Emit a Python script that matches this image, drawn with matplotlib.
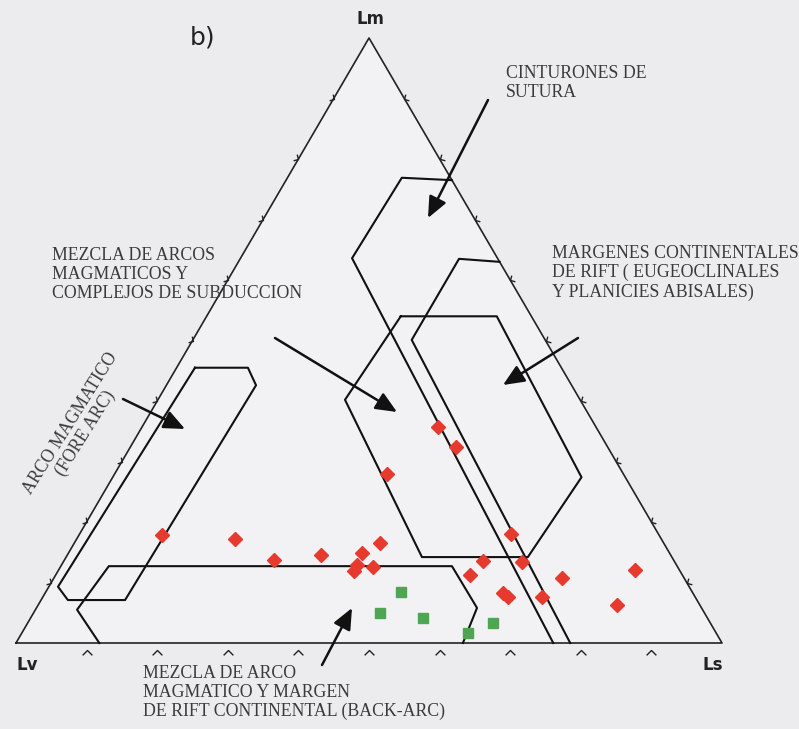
import numpy as np
import matplotlib.pyplot as plt
from matplotlib.path import Path

# sample compositions, percent (Lm, Lv, Ls)
red_lm = [17.9, 17.2, 13.7, 14.5, 14.9, 16.5, 12.9, 11.9, 12.6, 27.9, 35.7,
          32.4, 18.0, 13.6, 13.4, 11.2, 10.7, 12.1, 8.3, 7.6, 7.6, 6.3]
red_ls = [11.8, 22.4, 29.7, 35.9, 41.6, 43.3, 41.9, 41.9, 44.3, 38.6, 41.9,
          46.1, 61.1, 59.4, 65.0, 58.7, 72.0, 81.6, 64.8, 65.9, 70.7, 82.0]
red_lv = [100 - a - b for a, b in zip(red_lm, red_ls)]

green_lm = [8.4, 5.0, 4.1, 3.3, 1.7]
green_ls = [50.3, 49.1, 55.6, 65.9, 63.2]
green_lv = [100 - a - b for a, b in zip(green_lm, green_ls)]

# field boundaries (Lm, Ls) in percent
forearc_lm = [45.5, 45.5, 42.6, 7.1, 7.1, 9.3, 45.5]
forearc_ls = [2.6, 10.1, 12.7, 11.9, 3.8, 1.3, 2.6]
backarc_lm = [0, 5.5, 12.7, 12.7, 5.8, 0]
backarc_ls = [11.8, 5.9, 6.8, 55.4, 62.4, 63.3]
mixed_lm = [54.0, 54.0, 27.4, 14.2, 14.2, 40.2, 54.0]
mixed_ls = [27.5, 41.1, 66.4, 65.4, 50.4, 26.5, 27.5]
suture_lm = [76.5, 76.9, 63.6, 0]
suture_ls = [23.5, 16.2, 15.8, 76.1]
rift_lm = [63.0, 63.5, 50.1, 0]
rift_ls = [37.0, 31.0, 31.0, 78.5]

ticks = np.arange(10, 100, 10)


def tern(lm, ls):
    lm = np.asarray(lm, float) / 100
    ls = np.asarray(ls, float) / 100
    return ls + lm / 2, lm


def chevron(angle):
    # open ">" shape pointing along angle (degrees)
    v = np.array([[-1.0, 1.0], [0.0, 0.0], [-1.0, -1.0]])
    a = np.radians(angle)
    r = np.array([[np.cos(a), -np.sin(a)], [np.sin(a), np.cos(a)]])
    return Path(v @ r.T, [Path.MOVETO, Path.LINETO, Path.LINETO])


W, H = 799, 729
bg = '#ececef'
fig = plt.figure(figsize=(W / 100, H / 100), dpi=100, facecolor=bg)
ax = fig.add_axes([0, 0, 1, 1])
ax.set_facecolor(bg)
ax.set_xlim(-16 / 706, (W - 16) / 706)
ax.set_ylim((643 - H) / 605, 643 / 605)
ax.axis('off')

serif = 'Liberation Serif'
tc = '#3a3a3a'
fs = 12.8

# frame
cx, cy = tern([0, 0, 100, 0], [0, 100, 0, 0])
ax.fill(cx, cy, color='#f2f2f5', zorder=0)
ax.plot(cx, cy, color='#222222', lw=1.2, zorder=2)

# edge ticks
bx, by = tern(np.zeros(9), ticks)
ax.plot(bx, by - 0.012, ls='none', marker=chevron(90), ms=7, mfc='none',
        mec='#222222', mew=1.0)
lx, ly = tern(ticks, np.zeros(9))
ax.plot(lx, ly, ls='none', marker=chevron(-30), ms=7, mfc='none',
        mec='#222222', mew=1.0)
rx, ry = tern(ticks, 100 - ticks)
ax.plot(rx, ry, ls='none', marker=chevron(210), ms=7, mfc='none',
        mec='#222222', mew=1.0)

# fields
for flm, fls in [(forearc_lm, forearc_ls), (backarc_lm, backarc_ls),
                 (mixed_lm, mixed_ls), (suture_lm, suture_ls),
                 (rift_lm, rift_ls)]:
    x, y = tern(flm, fls)
    ax.plot(x, y, color='#111111', lw=1.5, zorder=3)

# samples
x, y = tern(red_lm, red_ls)
ax.plot(x, y, ls='none', marker='D', ms=7.5, color='#e63a2e', zorder=5)
x, y = tern(green_lm, green_ls)
ax.plot(x, y, ls='none', marker='s', ms=7.5, color='#4fa552', zorder=5)


def fx(px):
    return px / W


def fy(py):
    return 1 - py / H


# apex labels
fig.text(fx(370), fy(19), 'Lm', ha='center', va='center', fontsize=12,
         fontweight='bold', color='#222222')
fig.text(fx(27), fy(665), 'Lv', ha='center', va='center', fontsize=12,
         fontweight='bold', color='#222222')
fig.text(fx(713), fy(665), 'Ls', ha='center', va='center', fontsize=12,
         fontweight='bold', color='#222222')
fig.text(fx(190), fy(37), 'b)', ha='left', va='center', fontsize=18,
         color='#222222')

# field names
fig.text(fx(506), fy(65), 'CINTURONES DE\nSUTURA', ha='left', va='top',
         fontsize=fs, family=serif, color=tc, linespacing=1.15)
fig.text(fx(52), fy(247), 'MEZCLA DE ARCOS\nMAGMATICOS Y\nCOMPLEJOS DE SUBDUCCION',
         ha='left', va='top', fontsize=fs, family=serif, color=tc,
         linespacing=1.15)
fig.text(fx(552), fy(245),
         'MARGENES CONTINENTALES\nDE RIFT ( EUGEOCLINALES\nY PLANICIES ABISALES)',
         ha='left', va='top', fontsize=fs, family=serif, color=tc,
         linespacing=1.15)
fig.text(fx(143), fy(665),
         'MEZCLA DE ARCO\nMAGMATICO Y MARGEN\nDE RIFT CONTINENTAL (BACK-ARC)',
         ha='left', va='top', fontsize=fs, family=serif, color=tc,
         linespacing=1.15)
fig.text(fx(78), fy(428), 'ARCO MAGMATICO\n(FORE ARC)', ha='center',
         va='center', rotation=58, rotation_mode='anchor',
         multialignment='center', fontsize=fs, family=serif, color=tc,
         linespacing=1.1)

# arrows
arrows = [((488, 100), (428, 218)), ((275, 338), (397, 412)),
          ((578, 338), (503, 385)), ((123, 399), (185, 429)),
          ((322, 665), (352, 608))]
for (x0, y0), (x1, y1) in arrows:
    ax.annotate('', xy=(fx(x1), fy(y1)), xytext=(fx(x0), fy(y0)),
                xycoords='figure fraction', textcoords='figure fraction',
                arrowprops=dict(arrowstyle='-|>,head_length=0.8,head_width=0.35',
                                color='#111111', lw=1.8, mutation_scale=16,
                                shrinkA=0, shrinkB=0), zorder=6)

fig.savefig('out.png', dpi=100, facecolor=bg)
